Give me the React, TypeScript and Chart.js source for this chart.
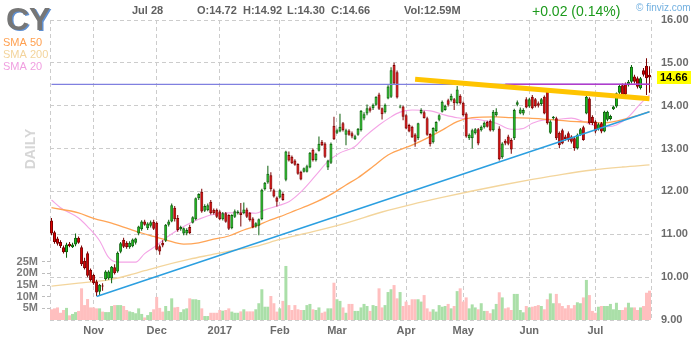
import React, { useEffect, useRef } from 'react';
import { Chart, registerables } from 'chart.js';

Chart.register(...registerables);

// ---- Session calendar (Oct 2016 – Jul 2017) ----
const monthNames = ['Oct', 'Nov', 'Dec', '2017', 'Feb', 'Mar', 'Apr', 'May', 'Jun', 'Jul'];
const sessionsPerMonth = [14, 21, 21, 20, 19, 23, 19, 22, 22, 19];

// ---- Daily OHLC (USD) ----
const openPrices = [
  11.32, 11.05, 10.9, 10.82, 10.7, 10.58, 10.78, 10.7, 10.76, 10.92,
  10.7, 10.38, 10.56, 10.17, 10.05, 9.9, 9.66, 9.8, 9.95, 9.97,
  9.97, 10.23, 10.13, 10.59, 10.87, 10.8, 10.7, 10.72, 10.8, 11.02,
  11.12, 11.3, 11.14, 11.2, 11.29, 11.27, 10.72, 10.8, 10.85, 11.22,
  11.3, 11.62, 11.38, 11.12, 11.02, 11.02, 11.17, 11.27, 11.35, 11.84,
  11.99, 11.55, 11.56, 11.76, 11.57, 11.57, 11.53, 11.35, 11.49, 11.45,
  11.14, 11.41, 11.49, 11.51, 11.49, 11.58, 11.5, 11.37, 11.18, 11.2,
  11.35, 12.05, 12.21, 12.38, 12.03, 11.86, 11.86, 11.94, 12.27, 12.85,
  12.81, 12.72, 12.64, 12.46, 12.46, 12.46, 12.56, 12.97, 12.73, 12.95,
  13.16, 13.12, 12.56, 12.67, 13.53, 13.37, 13.4, 13.59, 13.32, 13.42,
  13.36, 13.22, 13.32, 13.43, 13.7, 13.82, 13.94, 13.94, 14.02, 14.26,
  13.94, 13.85, 14.17, 14.21, 14.95, 14.78, 13.96, 13.98, 13.78, 13.55,
  13.51, 13.33, 13.24, 13.83, 13.85, 13.71, 13.34, 13.15, 13.41, 13.67,
  13.86, 13.9, 14.13, 14.13, 14.15, 14.06, 14.23, 14.07, 13.82, 13.24,
  13.24, 13.36, 13.45, 13.43, 13.5, 13.62, 13.65, 13.43, 13.78, 13.47,
  12.8, 13.18, 13.28, 13.2, 13.24, 14.02, 13.82, 13.82, 14.15, 13.98,
  14.21, 14.15, 14.06, 14.04, 14.21, 14.37, 13.37, 13.71, 13.71, 13.37,
  13.43, 13.28, 13.36, 13.28, 13.24, 13.01, 13.32, 13.5, 13.82, 14.17,
  13.74, 13.63, 13.45, 13.59, 13.4, 13.67, 13.69, 13.92, 13.98, 14.3,
  14.48, 14.5, 14.48, 14.56, 14.68, 14.64, 14.41, 14.83, 14.93, 14.72,
];
const highPrices = [
  11.38, 11.08, 10.94, 10.86, 10.74, 10.8, 10.82, 10.8, 11.02, 10.95,
  10.74, 10.45, 10.6, 10.2, 10.08, 9.94, 9.84, 9.86, 10.16, 10.16,
  10.26, 10.3, 10.6, 10.82, 10.92, 10.84, 10.84, 10.9, 10.92, 11.2,
  11.33, 11.34, 11.28, 11.32, 11.34, 11.3, 10.76, 10.86, 11.24, 11.34,
  11.72, 11.66, 11.45, 11.2, 11.16, 11.14, 11.22, 11.42, 11.86, 11.96,
  12.06, 11.7, 11.72, 11.8, 11.6, 11.6, 11.56, 11.52, 11.52, 11.47,
  11.47, 11.58, 11.56, 11.73, 11.74, 11.62, 11.52, 11.4, 11.28, 11.37,
  12.06, 12.22, 12.6, 12.45, 12.06, 11.88, 12.05, 11.98, 12.95, 12.93,
  12.84, 12.75, 12.66, 12.48, 12.56, 12.62, 12.92, 13.0, 12.9, 13.28,
  13.2, 13.15, 12.74, 13.14, 13.74, 13.46, 13.81, 13.62, 13.46, 13.45,
  13.4, 13.32, 13.48, 13.9, 13.85, 14.03, 13.98, 14.05, 14.22, 14.3,
  13.96, 14.05, 14.48, 14.9, 15.0, 14.82, 14.02, 14.0, 13.8, 13.58,
  13.53, 13.36, 13.6, 13.94, 13.88, 13.74, 13.36, 13.5, 13.64, 13.8,
  14.12, 14.02, 14.16, 14.28, 14.18, 14.46, 14.27, 14.1, 13.85, 13.35,
  13.46, 13.48, 13.48, 13.54, 13.63, 13.65, 13.68, 13.9, 13.94, 13.52,
  13.15, 13.22, 13.32, 13.24, 13.93, 14.12, 13.96, 13.94, 14.2, 14.18,
  14.25, 14.18, 14.1, 14.18, 14.24, 14.4, 13.66, 13.76, 13.74, 13.4,
  13.46, 13.32, 13.4, 13.31, 13.27, 13.35, 13.48, 13.53, 14.33, 14.2,
  13.78, 13.66, 13.6, 13.62, 13.88, 13.88, 13.79, 14.0, 14.31, 14.49,
  14.52, 14.54, 14.6, 14.95, 14.72, 14.68, 14.67, 14.88, 15.11, 14.92,
];
const lowPrices = [
  10.98, 10.78, 10.74, 10.68, 10.55, 10.45, 10.7, 10.68, 10.72, 10.78,
  10.26, 10.18, 10.0, 9.9, 9.82, 9.56, 9.58, 9.68, 9.92, 9.94,
  9.86, 10.06, 10.1, 10.56, 10.68, 10.66, 10.66, 10.7, 10.76, 10.98,
  11.08, 11.2, 11.1, 11.16, 11.1, 10.62, 10.52, 10.7, 10.82, 11.18,
  11.28, 11.3, 11.06, 11.08, 10.98, 10.98, 11.0, 11.25, 11.33, 11.8,
  11.5, 11.52, 11.54, 11.46, 11.46, 11.38, 11.33, 11.32, 11.27, 11.1,
  11.12, 11.38, 11.46, 11.18, 11.47, 11.38, 11.3, 11.14, 11.15, 10.98,
  11.33, 12.02, 12.18, 12.0, 11.86, 11.65, 11.84, 11.78, 12.24, 12.7,
  12.64, 12.6, 12.39, 12.26, 12.44, 12.44, 12.54, 12.7, 12.7, 12.93,
  13.06, 12.78, 12.5, 12.64, 13.2, 13.34, 13.38, 13.4, 13.08, 13.3,
  13.24, 13.2, 13.3, 13.4, 13.66, 13.78, 13.84, 13.9, 14.0, 13.9,
  13.68, 13.82, 14.15, 14.18, 14.5, 14.17, 13.94, 13.66, 13.45, 13.38,
  13.25, 13.04, 13.2, 13.8, 13.7, 13.3, 13.05, 13.12, 13.38, 13.64,
  13.84, 13.88, 13.98, 14.1, 13.9, 14.03, 14.03, 13.75, 13.25, 13.2,
  13.0, 13.33, 13.08, 13.4, 13.47, 13.49, 13.4, 13.4, 13.75, 12.72,
  12.76, 13.08, 13.08, 12.88, 13.2, 13.99, 13.8, 13.78, 13.94, 13.95,
  13.92, 13.96, 13.96, 14.0, 13.8, 13.56, 13.34, 13.68, 13.2, 13.01,
  13.1, 13.18, 13.16, 13.12, 12.95, 12.98, 13.3, 13.18, 13.8, 13.56,
  13.55, 13.36, 13.42, 13.36, 13.38, 13.64, 13.66, 13.9, 13.95, 14.27,
  14.22, 14.22, 14.45, 14.52, 14.52, 14.4, 14.38, 14.68, 14.25, 14.3,
];
const closePrices = [
  11.02, 10.82, 10.78, 10.72, 10.58, 10.76, 10.72, 10.76, 10.92, 10.8,
  10.3, 10.21, 10.03, 9.93, 9.86, 9.64, 9.82, 9.78, 10.13, 10.13,
  10.24, 10.09, 10.57, 10.79, 10.71, 10.7, 10.8, 10.88, 10.9, 11.18,
  11.3, 11.22, 11.25, 11.28, 11.13, 10.64, 10.6, 10.74, 11.22, 11.3,
  11.68, 11.35, 11.1, 11.17, 11.14, 11.1, 11.03, 11.4, 11.84, 11.94,
  11.53, 11.66, 11.68, 11.49, 11.49, 11.41, 11.35, 11.49, 11.29, 11.13,
  11.45, 11.54, 11.53, 11.45, 11.58, 11.41, 11.33, 11.16, 11.26, 11.35,
  12.04, 12.2, 12.41, 12.05, 11.88, 11.76, 12.03, 11.8, 12.93, 12.72,
  12.66, 12.62, 12.41, 12.28, 12.54, 12.59, 12.9, 12.73, 12.88, 13.11,
  13.08, 12.81, 12.72, 13.11, 13.22, 13.43, 13.51, 13.43, 13.43, 13.32,
  13.28, 13.29, 13.46, 13.88, 13.8, 13.94, 13.88, 14.02, 14.21, 13.93,
  13.8, 14.02, 14.45, 14.83, 14.52, 14.19, 13.98, 13.74, 13.47, 13.4,
  13.26, 13.16, 13.59, 13.9, 13.71, 13.32, 13.1, 13.48, 13.62, 13.78,
  14.09, 14.0, 14.02, 14.23, 14.06, 14.38, 14.06, 13.78, 13.28, 13.32,
  13.43, 13.45, 13.12, 13.51, 13.6, 13.51, 13.42, 13.86, 13.86, 12.75,
  13.12, 13.12, 13.11, 12.98, 13.9, 14.08, 13.91, 13.9, 13.96, 14.15,
  13.94, 13.99, 14.0, 14.15, 13.82, 13.59, 13.63, 13.74, 13.24, 13.08,
  13.12, 13.22, 13.2, 13.16, 13.01, 13.32, 13.45, 13.2, 14.21, 13.59,
  13.59, 13.4, 13.57, 13.4, 13.86, 13.86, 13.76, 13.98, 14.29, 14.46,
  14.25, 14.26, 14.56, 14.91, 14.56, 14.44, 14.64, 14.72, 14.64, 14.66,
];
// ---- Daily volume (millions of shares) ----
const volumeMillions = [
  4.6, 5.0, 5.4, 3.1, 4.3, 5.2, 2.0, 2.6, 3.4, 3.9,
  13.6, 6.4, 9.0, 5.4, 5.4, 5.0, 5.0, 3.6, 3.4, 3.4,
  6.0, 6.4, 6.4, 6.4, 6.0, 4.3, 3.7, 3.4, 2.9, 5.0,
  2.6, 1.1, 2.1, 3.4, 4.6, 9.9, 5.2, 3.6, 6.0, 3.9,
  9.3, 5.4, 5.6, 3.4, 4.6, 5.0, 9.3, 8.9, 8.9, 8.6,
  5.0, 1.7, 1.7, 3.1, 3.1, 3.1, 4.3, 4.0, 4.3, 5.0,
  3.6, 3.1, 3.1, 3.7, 4.6, 3.7, 3.7, 3.7, 4.6, 7.2,
  13.2, 5.7, 5.7, 10.3, 7.2, 3.6, 5.0, 8.2, 23.2, 6.4,
  4.3, 6.4, 4.6, 4.3, 4.3, 6.4, 6.9, 4.6, 4.3, 5.4,
  3.1, 3.6, 5.0, 5.0, 16.0, 8.9, 8.2, 5.4, 3.1, 6.9,
  6.9, 3.9, 3.9, 5.4, 6.9, 6.0, 3.9, 6.4, 6.0, 13.6,
  5.4, 6.4, 12.0, 13.2, 15.0, 9.3, 12.0, 6.0, 7.9, 6.4,
  8.9, 8.9, 8.9, 7.9, 10.7, 5.0, 3.6, 4.6, 3.6, 6.4,
  5.7, 6.0, 6.9, 5.0, 6.0, 12.4, 13.6, 7.9, 9.7, 5.0,
  6.7, 5.4, 4.6, 7.2, 3.9, 3.9, 2.9, 4.6, 6.9, 11.9,
  9.7, 5.0, 5.4, 4.3, 11.2, 11.2, 4.3, 3.3, 6.0, 5.4,
  5.7, 6.0, 6.4, 6.0, 4.6, 8.9, 11.4, 7.2, 11.2, 7.2,
  6.0, 5.0, 6.4, 5.0, 6.4, 7.6, 7.2, 9.7, 17.2, 10.7,
  3.9, 3.1, 5.7, 6.0, 6.0, 6.0, 6.9, 4.6, 7.4, 4.3,
  4.3, 5.4, 7.4, 5.4, 5.4, 4.3, 5.4, 6.0, 11.7, 12.59,
];

// ---- Moving averages, sampled as [session index, value] ----
const sma20Points: [number, number][] = [
  [0, 11.8], [3, 11.62], [9, 11.38], [12, 11.18], [16, 10.85], [19, 10.46], [22, 10.35],
  [28, 10.35], [31, 10.55], [35, 10.74], [38, 10.91], [42, 11.1], [46, 11.26], [49, 11.35],
  [53, 11.45], [59, 11.5], [64, 11.51], [68, 11.49], [71, 11.57], [76, 11.68], [79, 11.76],
  [83, 11.99], [88, 12.38], [92, 12.7], [96, 12.9], [101, 13.05], [104, 13.26], [109, 13.55],
  [113, 13.74], [116, 13.85], [120, 13.9], [126, 13.88], [131, 13.78], [135, 13.72],
  [142, 13.68], [148, 13.59], [153, 13.45], [157, 13.47], [160, 13.59], [164, 13.67],
  [168, 13.68], [173, 13.71], [177, 13.63], [181, 13.53], [185, 13.51], [188, 13.55],
  [192, 13.74], [196, 14.05], [199, 14.25],
];
const sma50Points: [number, number][] = [
  [0, 11.62], [9, 11.5], [14, 11.37], [20, 11.26], [26, 11.12], [30, 11.03], [34, 10.95],
  [38, 10.87], [44, 10.77], [49, 10.8], [53, 10.87], [59, 10.96], [64, 11.1], [68, 11.19],
  [72, 11.31], [76, 11.41], [81, 11.55], [87, 11.72], [92, 11.89], [98, 12.15], [102, 12.32],
  [107, 12.58], [112, 12.85], [120, 13.08], [126, 13.28], [131, 13.47], [135, 13.63],
  [140, 13.72], [148, 13.74], [153, 13.72], [159, 13.71], [165, 13.68], [172, 13.64],
  [178, 13.62], [184, 13.6], [192, 13.71], [199, 13.86],
];
const sma200Points: [number, number][] = [
  [0, 9.79], [9, 9.86], [15, 9.9], [20, 9.95], [26, 10.05], [31, 10.15], [35, 10.23],
  [46, 10.42], [53, 10.52], [60, 10.62], [68, 10.72], [76, 10.88], [87, 11.06], [98, 11.26],
  [110, 11.52], [120, 11.7], [130, 11.86], [140, 12.01], [150, 12.15], [160, 12.28],
  [170, 12.4], [180, 12.5], [190, 12.57], [199, 12.62],
];

// ---- Drawn trend lines ----
const supportTrend: [number, number][] = [[15, 9.55], [199, 13.86]];
const wedgeTrend: [number, number][] = [[121, 14.62], [199, 14.16]];
const resistanceLevel = 14.5;
const resistanceRecentStart = 151;

// ---- Axis ticks ----
const priceTicks = [9, 10, 11, 12, 13, 14, 15, 16];
const volumeTicks = [5, 10, 15, 20, 25];

const ticker = 'CY';
const lastDateLabel = 'Jul 28';

// ---- Derived structures ----
const sessionLabels: string[] = [];
const monthStarts: number[] = [];
sessionsPerMonth.forEach((n, m) => {
  monthStarts.push(sessionLabels.length);
  for (let s = 1; s <= n; s++) sessionLabels.push(`${monthNames[m]} #${s}`);
});
const sessionCount = sessionLabels.length;
const xTickValues = [-0.5, ...monthStarts.slice(1), sessionCount - 0.5];

const toSeries = (pts: [number, number][]) => {
  const arr: (number | null)[] = new Array(sessionCount).fill(null);
  pts.forEach(([i, v]) => { arr[i] = v; });
  return arr;
};

const isUp = closePrices.map((c, i) => c >= openPrices[i]);
const UP_FILL = '#19c219';
const UP_EDGE = '#0b5f0b';
const DOWN_FILL = '#e00000';
const DOWN_EDGE = '#7a0000';
const VOL_UP = '#aadfa8';
const VOL_DOWN = '#ffbfbf';

const FONT = "'Liberation Sans', Arial, sans-serif";

const headerPlugin = {
  id: 'quoteHeader',
  afterDraw(chart: any) {
    const ctx: CanvasRenderingContext2D = chart.ctx;
    const n = sessionCount - 1;
    ctx.save();
    ctx.textBaseline = 'alphabetic';
    ctx.textAlign = 'left';

    // ticker logo
    ctx.font = `bold 32px ${FONT}`;
    ctx.fillStyle = '#5f8fd0';
    ctx.fillText(ticker, 7.5, 31);
    ctx.fillStyle = '#767676';
    ctx.fillText(ticker, 6, 30);

    // moving average legend
    ctx.font = `11px ${FONT}`;
    ctx.fillStyle = '#ffa050';
    ctx.fillText('SMA 50', 3, 46);
    ctx.fillStyle = '#f3d49c';
    ctx.fillText('SMA 200', 3, 58);
    ctx.fillStyle = '#f09fe0';
    ctx.fillText('SMA 20', 3, 70);

    // quote line
    ctx.font = `bold 11px ${FONT}`;
    ctx.fillStyle = '#606060';
    ctx.fillText(lastDateLabel, 132, 14);
    ctx.fillText(`O:${openPrices[n].toFixed(2)}`, 197, 14);
    ctx.fillText(`H:${highPrices[n].toFixed(2)}`, 243, 14);
    ctx.fillText(`L:${lowPrices[n].toFixed(2)}`, 287, 14);
    ctx.fillText(`C:${closePrices[n].toFixed(2)}`, 331, 14);
    ctx.fillText(`Vol:${volumeMillions[n].toFixed(2)}M`, 404, 14);

    const change = closePrices[n] - closePrices[n - 1];
    const pct = (change / closePrices[n - 1]) * 100;
    const sign = change >= 0 ? '+' : '-';
    ctx.font = `14px ${FONT}`;
    ctx.fillStyle = change >= 0 ? '#1c9a1c' : '#d01010';
    ctx.fillText(`${sign}${Math.abs(change).toFixed(2)} (${Math.abs(pct).toFixed(2)}%)`, 532, 16);

    ctx.font = `10px ${FONT}`;
    ctx.fillStyle = '#72b0e0';
    ctx.fillText('\u00a9 finviz.com', 636, 11);

    // vertical period label
    ctx.save();
    ctx.translate(35, 149);
    ctx.rotate(-Math.PI / 2);
    ctx.textAlign = 'center';
    ctx.font = `bold 14px ${FONT}`;
    ctx.fillStyle = '#d6d6d6';
    ctx.fillText('DAILY', 0, 0);
    ctx.restore();

    // last price tag on the price axis
    const yPx = chart.scales.y.getPixelForValue(closePrices[n]);
    ctx.fillStyle = '#ffff00';
    ctx.fillRect(657, Math.round(yPx) - 6, 34, 13);
    ctx.font = `bold 11px ${FONT}`;
    ctx.fillStyle = '#000000';
    ctx.textBaseline = 'middle';
    ctx.fillText(closePrices[n].toFixed(2), 660, Math.round(yPx) + 0.5);
    ctx.restore();
  },
};

export default function App() {
  const canvasRef = useRef<HTMLCanvasElement | null>(null);

  useEffect(() => {
    const canvas = canvasRef.current;
    if (!canvas) return;
    Chart.defaults.font.family = FONT;

    const chart = new Chart(canvas, {
      type: 'bar',
      data: {
        labels: sessionLabels,
        datasets: [
          {
            type: 'bar',
            label: 'Volume',
            yAxisID: 'yVol',
            data: volumeMillions,
            backgroundColor: isUp.map((u) => (u ? VOL_UP : VOL_DOWN)),
            borderWidth: 0,
            barThickness: 3,
            grouped: false,
            inflateAmount: 0,
            order: 10,
          },
          {
            type: 'line',
            label: 'SMA 200',
            yAxisID: 'y',
            data: toSeries(sma200Points),
            borderColor: '#f3d59c',
            borderWidth: 1.3,
            pointRadius: 0,
            spanGaps: true,
            cubicInterpolationMode: 'monotone',
            fill: false,
            order: 8,
          },
          {
            type: 'line',
            label: 'SMA 50',
            yAxisID: 'y',
            data: toSeries(sma50Points),
            borderColor: '#ffa455',
            borderWidth: 1.3,
            pointRadius: 0,
            spanGaps: true,
            cubicInterpolationMode: 'monotone',
            fill: false,
            order: 8,
          },
          {
            type: 'line',
            label: 'SMA 20',
            yAxisID: 'y',
            data: toSeries(sma20Points),
            borderColor: '#f4a4e6',
            borderWidth: 1.1,
            pointRadius: 0,
            spanGaps: true,
            cubicInterpolationMode: 'monotone',
            fill: false,
            order: 8,
          },
          {
            type: 'bar',
            label: 'Range',
            yAxisID: 'y',
            data: lowPrices.map((l, i) => [l, highPrices[i]]),
            backgroundColor: isUp.map((u) => (u ? UP_EDGE : DOWN_EDGE)),
            borderWidth: 0,
            barThickness: 1,
            grouped: false,
            inflateAmount: 0,
            order: 6,
          },
          {
            type: 'bar',
            label: 'Body',
            yAxisID: 'y',
            data: openPrices.map((o, i) => [o, closePrices[i]]),
            backgroundColor: isUp.map((u) => (u ? UP_FILL : DOWN_FILL)),
            borderColor: isUp.map((u) => (u ? UP_EDGE : DOWN_EDGE)),
            borderWidth: 1,
            borderSkipped: false,
            minBarLength: 1,
            barThickness: 3,
            grouped: false,
            inflateAmount: 0,
            order: 5,
          },
          {
            type: 'line',
            label: 'Resistance',
            yAxisID: 'y',
            data: toSeries([[0, resistanceLevel], [sessionCount - 1, resistanceLevel]]),
            borderColor: '#8080e0',
            borderWidth: 1.2,
            pointRadius: 0,
            spanGaps: true,
            fill: false,
            order: 3,
          },
          {
            type: 'line',
            label: 'Resistance recent',
            yAxisID: 'y',
            data: toSeries([[resistanceRecentStart, resistanceLevel], [sessionCount - 1, resistanceLevel]]),
            borderColor: '#b03ccc',
            borderWidth: 1.5,
            pointRadius: 0,
            spanGaps: true,
            fill: false,
            order: 2,
          },
          {
            type: 'line',
            label: 'Wedge',
            yAxisID: 'y',
            data: toSeries(wedgeTrend),
            borderColor: '#ffc400',
            borderWidth: 5,
            borderCapStyle: 'butt',
            pointRadius: 0,
            spanGaps: true,
            fill: false,
            order: 1,
          },
          {
            type: 'line',
            label: 'Support',
            yAxisID: 'y',
            data: toSeries(supportTrend),
            borderColor: '#2b9fe0',
            borderWidth: 1.5,
            pointRadius: 0,
            spanGaps: true,
            fill: false,
            order: 1,
          },
        ] as any,
      },
      options: {
        animation: false,
        responsive: true,
        maintainAspectRatio: false,
        devicePixelRatio: 1,
        layout: { padding: { top: 20, left: 0, right: 0, bottom: 0 } },
        plugins: {
          legend: { display: false },
          tooltip: { enabled: false },
          title: { display: false },
        },
        events: [],
        scales: {
          x: {
            type: 'category',
            offset: true,
            afterBuildTicks: (s: any) => {
              s.ticks = xTickValues.map((v) => ({ value: v }));
            },
            afterFit: (s: any) => {
              s.height = 20;
            },
            ticks: {
              autoSkip: false,
              maxRotation: 0,
              minRotation: 0,
              padding: 4,
              color: '#6b6b6b',
              font: { size: 11, weight: 'bold' },
              callback: (v: any) => {
                const m = monthStarts.indexOf(Number(v));
                return m > 0 ? monthNames[m] : '';
              },
            },
            grid: { offset: false, color: '#cccccc', drawTicks: false, lineWidth: 1 },
            border: { display: false, dash: [4, 3] },
          },
          y: {
            type: 'linear',
            position: 'right',
            min: 9,
            max: 16,
            afterBuildTicks: (s: any) => {
              s.ticks = priceTicks.map((v) => ({ value: v }));
            },
            afterFit: (s: any) => {
              s.width = 49;
            },
            ticks: {
              padding: 10,
              color: '#6b6b6b',
              font: { size: 11, weight: 'bold' },
              callback: (v: any) => Number(v).toFixed(2),
            },
            grid: { color: '#cccccc', drawTicks: false, lineWidth: 1 },
            border: { display: false, dash: [4, 3] },
          },
          yVol: {
            type: 'linear',
            position: 'left',
            min: 0,
            max: 128.8,
            afterBuildTicks: (s: any) => {
              s.ticks = volumeTicks.map((v) => ({ value: v }));
            },
            afterFit: (s: any) => {
              s.width = 50;
            },
            ticks: {
              padding: 4,
              color: '#7a7a7a',
              font: { size: 11, weight: 'bold' },
              callback: (v: any) => `${v}M`,
            },
            grid: {
              drawOnChartArea: false,
              drawTicks: true,
              tickLength: 8,
              tickColor: '#bdbdbd',
              tickBorderDash: [3, 2],
            },
            border: { display: false },
          },
        },
      } as any,
      plugins: [headerPlugin],
    });

    return () => chart.destroy();
  }, []);

  return (
    <div style={{ position: 'absolute', left: 0, top: 0, width: 700, height: 340, background: '#ffffff' }}>
      <canvas ref={canvasRef} />
    </div>
  );
}
